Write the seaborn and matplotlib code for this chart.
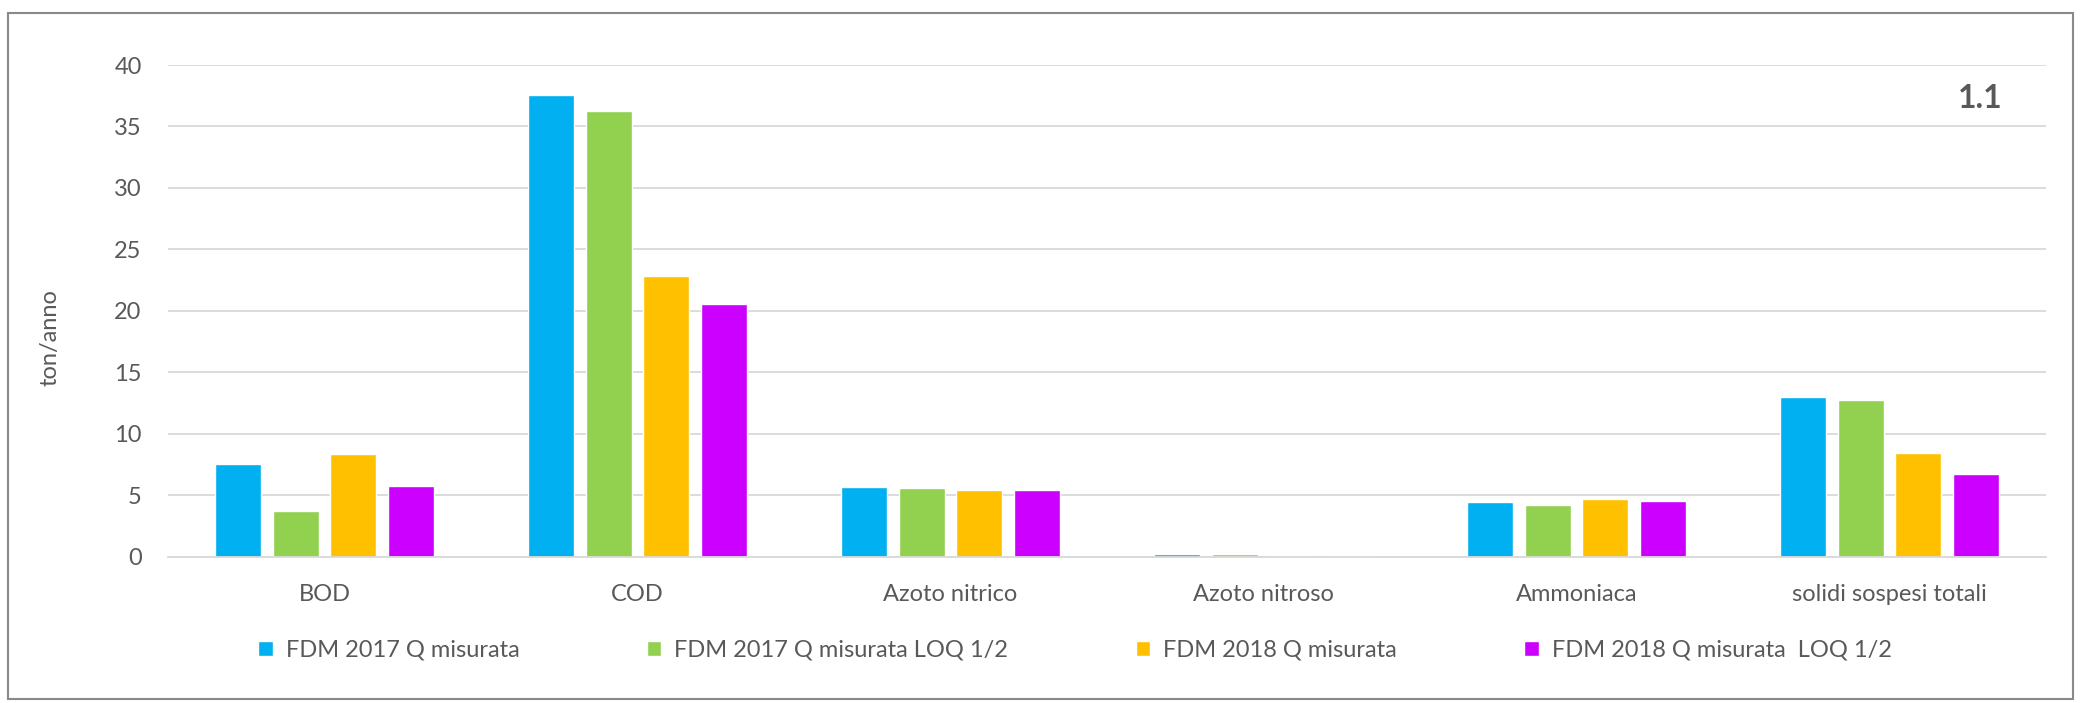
import pandas as pd
import matplotlib.pyplot as plt
import seaborn as sns
from matplotlib.patches import Rectangle

# Data (ton/anno)
categories = ["BOD", "COD", "Azoto nitrico", "Azoto nitroso", "Ammoniaca", "solidi sospesi totali"]
series_names = [
    "FDM 2017 Q misurata",
    "FDM 2017 Q misurata LOQ 1/2",
    "FDM 2018 Q misurata",
    "FDM 2018 Q misurata  LOQ 1/2",
]
fdm2017 = [7.54, 37.56, 5.65, 0.22, 4.44, 13.0]
fdm2017_loq = [3.75, 36.28, 5.6, 0.22, 4.2, 12.74]
fdm2018 = [8.35, 22.86, 5.44, 0.02, 4.68, 8.42]
fdm2018_loq = [5.77, 20.57, 5.4, 0.02, 4.53, 6.71]
colors = ["#00B0F0", "#92D050", "#FFC000", "#CC00FF"]
y_ticks = [0, 5, 10, 15, 20, 25, 30, 35, 40]

rows = []
for name, vals in zip(series_names, [fdm2017, fdm2017_loq, fdm2018, fdm2018_loq]):
    for cat, v in zip(categories, vals):
        rows.append({"Parametro": cat, "Serie": name, "ton/anno": v})
df = pd.DataFrame(rows)

sns.set_theme(style="white")
plt.rcParams["font.family"] = ["Lato", "DejaVu Sans"]
text_color = "#595959"

fig = plt.figure(figsize=(20.8, 7.03), dpi=100)
ax = fig.add_axes([0.0808, 0.2081, 0.9029, 0.6994])

sns.barplot(
    data=df,
    x="Parametro",
    y="ton/anno",
    hue="Serie",
    hue_order=series_names,
    order=categories,
    palette=colors,
    width=0.736,
    gap=0.2,
    saturation=1,
    ax=ax,
)

ax.set_ylim(0, 40)
ax.set_xlim(-0.5, 5.5)
ax.set_yticks(y_ticks)
ax.yaxis.grid(True, color="#D9D9D9", linewidth=1.3)
ax.set_axisbelow(True)
for side in ["top", "right", "left"]:
    ax.spines[side].set_visible(False)
ax.spines["bottom"].set_color("#D9D9D9")
ax.spines["bottom"].set_linewidth(1.3)
ax.tick_params(axis="x", length=0, pad=20, labelsize=17, labelcolor=text_color)
ax.tick_params(axis="y", length=0, pad=19, labelsize=17, labelcolor=text_color)
ax.set_xlabel("")
ax.set_ylabel("ton/anno", fontsize=17, color=text_color)
ax.yaxis.set_label_coords(-0.0575, 0.445)

ax.text(0.9766, 0.9126, "1.1", transform=ax.transAxes, ha="right", va="baseline",
        fontsize=23, fontweight="bold", color=text_color)

handles, labels = ax.get_legend_handles_labels()
ax.legend_.remove()
fig.legend(
    handles, labels,
    loc="center left",
    bbox_to_anchor=(0.1242, 0.0747),
    ncol=4,
    frameon=False,
    fontsize=17,
    labelcolor=text_color,
    borderpad=0,
    borderaxespad=0,
    handlelength=0.61,
    handleheight=0.61,
    handletextpad=0.55,
    columnspacing=5.4,
)

fig.patches.append(Rectangle((0.004, 0.0057), 0.9925, 0.976, transform=fig.transFigure,
                             fill=False, edgecolor="#898989", linewidth=1.5))

plt.savefig("out.png", dpi=100)
